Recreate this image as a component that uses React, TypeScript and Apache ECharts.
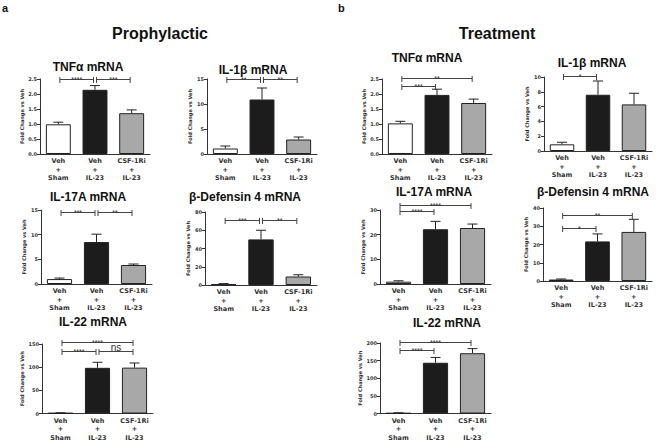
import React, { useEffect, useRef } from "react";
import * as echarts from "echarts";

const groupLabels = ["Veh\n+\nSham", "Veh\n+\nIL-23", "CSF-1Ri\n+\nIL-23"];
const barColors = ["#ffffff", "#1c1c1c", "#a8a8a8"];

type Sig = [number, number, number, string];

// Prophylactic (a)
const proTnfMean = [0.99, 2.14, 1.36];
const proTnfSem = [0.07, 0.14, 0.11];
const proTnfSig: Sig[] = [[0, 1, 2.5, "****"], [1, 2, 2.5, "***"]];

const proIl1bMean = [1.1, 10.9, 2.9];
const proIl1bSem = [0.5, 2.3, 0.5];
const proIl1bSig: Sig[] = [[0, 1, 15, "**"], [1, 2, 15, "**"]];

const proIl17Mean = [1.0, 8.5, 3.85];
const proIl17Sem = [0.2, 1.6, 0.2];
const proIl17Sig: Sig[] = [[0, 1, 14.6, "***"], [1, 2, 14.6, "**"]];

const proDefMean = [0.8, 50, 9.3];
const proDefSem = [0.7, 10, 1.9];
const proDefSig: Sig[] = [[0, 1, 71, "***"], [1, 2, 71, "**"]];

const proIl22Mean = [1, 98.6, 99];
const proIl22Sem = [0.6, 12, 10];
const proIl22Sig: Sig[] = [[0, 2, 154, "****"], [0, 1, 134, "****"], [1, 2, 134, "ns"]];

// Treatment (b)
const trtTnfMean = [1.02, 1.97, 1.7];
const trtTnfSem = [0.07, 0.19, 0.13];
const trtTnfSig: Sig[] = [[0, 2, 2.53, "**"], [0, 1, 2.27, "***"]];

const trtIl1bMean = [0.9, 7.6, 6.3];
const trtIl1bSem = [0.28, 1.86, 1.5];
const trtIl1bSig: Sig[] = [[0, 1, 10.2, "*"]];

const trtIl17Mean = [0.95, 22.2, 22.7];
const trtIl17Sem = [0.35, 3.2, 1.6];
const trtIl17Sig: Sig[] = [[0, 2, 32, "****"], [0, 1, 29.6, "****"]];

const trtDefMean = [0.8, 21.7, 26.9];
const trtDefSem = [0.3, 4.1, 6.9];
const trtDefSig: Sig[] = [[0, 2, 36.4, "**"], [0, 1, 29.3, "*"]];

const trtIl22Mean = [1, 144, 171];
const trtIl22Sem = [1, 15, 13];
const trtIl22Sig: Sig[] = [[0, 2, 203, "****"], [0, 1, 180, "****"]];

const FONT = '"Liberation Sans", Arial, Helvetica, sans-serif';
const SMALL = '"DejaVu Sans", "Liberation Sans", sans-serif';

const panels = [
  { title: "TNFα mRNA", tx: 88, ty: 67, grid: { left: 40, top: 79, width: 110, height: 75 }, max: 2.5, interval: 0.5, dec: 1, mean: proTnfMean, sem: proTnfSem, sig: proTnfSig },
  { title: "IL-1β mRNA", tx: 253, ty: 70, grid: { left: 207, top: 79, width: 110, height: 75 }, max: 15, interval: 5, dec: 0, mean: proIl1bMean, sem: proIl1bSem, sig: proIl1bSig },
  { title: "IL-17A mRNA", tx: 88, ty: 197, grid: { left: 41, top: 210, width: 111, height: 74 }, max: 15, interval: 5, dec: 0, mean: proIl17Mean, sem: proIl17Sem, sig: proIl17Sig },
  { title: "β-Defensin 4 mRNA", tx: 245, ty: 197, grid: { left: 205, top: 212, width: 112, height: 73 }, max: 80, interval: 20, dec: 0, mean: proDefMean, sem: proDefSem, sig: proDefSig },
  { title: "IL-22 mRNA", tx: 93, ty: 322, grid: { left: 42, top: 344, width: 111, height: 73 }, max: 150, interval: 50, dec: 0, mean: proIl22Mean, sem: proIl22Sem, sig: proIl22Sig },
  { title: "TNFα mRNA", tx: 427, ty: 58, grid: { left: 382, top: 79, width: 110, height: 75 }, max: 2.5, interval: 0.5, dec: 1, mean: trtTnfMean, sem: trtTnfSem, sig: trtTnfSig },
  { title: "IL-1β mRNA", tx: 592, ty: 63, grid: { left: 544, top: 77, width: 108, height: 74 }, max: 10, interval: 2, dec: 0, mean: trtIl1bMean, sem: trtIl1bSem, sig: trtIl1bSig },
  { title: "IL-17A mRNA", tx: 434, ty: 192, grid: { left: 380, top: 210, width: 111, height: 74 }, max: 30, interval: 10, dec: 0, mean: trtIl17Mean, sem: trtIl17Sem, sig: trtIl17Sig },
  { title: "β-Defensin 4 mRNA", tx: 593, ty: 192, grid: { left: 543, top: 208, width: 109, height: 73 }, max: 40, interval: 10, dec: 0, mean: trtDefMean, sem: trtDefSem, sig: trtDefSig },
  { title: "IL-22 mRNA", tx: 447, ty: 323, grid: { left: 380, top: 343, width: 111, height: 74 }, max: 200, interval: 50, dec: 0, mean: trtIl22Mean, sem: trtIl22Sem, sig: trtIl22Sig },
];

function buildOption() {
  const axisColor = "#333";
  const series: any[] = [];
  panels.forEach((p, i) => {
    series.push({
      type: "bar",
      xAxisIndex: i,
      yAxisIndex: i,
      barCategoryGap: "32%",
      data: p.mean.map((v, k) => ({
        value: v,
        itemStyle: { color: barColors[k], borderColor: "#222", borderWidth: 1 },
      })),
      z: 2,
    });
    series.push({
      type: "custom",
      xAxisIndex: i,
      yAxisIndex: i,
      clip: false,
      z: 3,
      data: p.mean.map((v, k) => [k, v, v + p.sem[k]]),
      renderItem: (params: any, api: any) => {
        const base = api.coord([api.value(0), api.value(1)]);
        const top = api.coord([api.value(0), api.value(2)]);
        const st = { stroke: "#222", lineWidth: 1 };
        return {
          type: "group",
          children: [
            { type: "line", shape: { x1: base[0], y1: base[1], x2: top[0], y2: top[1] }, style: st },
            { type: "line", shape: { x1: top[0] - 5, y1: top[1], x2: top[0] + 5, y2: top[1] }, style: st },
          ],
        };
      },
    });
    series.push({
      type: "custom",
      xAxisIndex: i,
      yAxisIndex: i,
      clip: false,
      z: 4,
      data: p.sig.map((s) => [s[0], s[2]]),
      renderItem: (params: any, api: any) => {
        const s = p.sig[params.dataIndex];
        const a = api.coord([s[0], s[2]]);
        const b = api.coord([s[1], s[2]]);
        const y = Math.round(a[1]) + 0.5;
        const x1 = a[0] + 1.5;
        const x2 = b[0] - 1.5;
        const st = { stroke: "#444", lineWidth: 1 };
        const isNs = s[3] === "ns";
        return {
          type: "group",
          children: [
            { type: "line", shape: { x1, y1: y, x2, y2: y }, style: st },
            { type: "line", shape: { x1, y1: y - 2.5, x2: x1, y2: y + 3.5 }, style: st },
            { type: "line", shape: { x1: x2, y1: y - 2.5, x2: x2, y2: y + 3.5 }, style: st },
            {
              type: "text",
              style: {
                text: s[3],
                x: (x1 + x2) / 2,
                y: isNs ? y + 1 : y + 3,
                align: "center",
                verticalAlign: "bottom",
                fontSize: isNs ? 10 : 7,
                fontFamily: FONT,
                fill: "#333",
              },
            },
          ],
        };
      },
    });
  });

  const graphic: any[] = [
    { type: "text", x: 2, y: 8, style: { text: "a", fontSize: 11, fontWeight: "bold", fontFamily: FONT, fill: "#111", verticalAlign: "middle" } },
    { type: "text", x: 338, y: 8, style: { text: "b", fontSize: 11, fontWeight: "bold", fontFamily: FONT, fill: "#111", verticalAlign: "middle" } },
    { type: "text", x: 160, y: 33, style: { text: "Prophylactic", fontSize: 16, fontWeight: "bold", fontFamily: FONT, fill: "#111", align: "center", verticalAlign: "middle" } },
    { type: "text", x: 497, y: 33, style: { text: "Treatment", fontSize: 16, fontWeight: "bold", fontFamily: FONT, fill: "#111", align: "center", verticalAlign: "middle" } },
  ];
  panels.forEach((p) => {
    graphic.push({
      type: "text",
      x: p.tx,
      y: p.ty,
      style: { text: p.title, fontSize: 12, fontWeight: "bold", fontFamily: FONT, fill: "#111", align: "center", verticalAlign: "middle" },
    });
  });

  return {
    animation: false,
    backgroundColor: "#ffffff",
    grid: panels.map((p) => ({ ...p.grid })),
    xAxis: panels.map((p, i) => ({
      type: "category",
      gridIndex: i,
      data: groupLabels,
      axisLine: { lineStyle: { color: axisColor, width: 1 } },
      axisTick: { alignWithLabel: true, length: 3, lineStyle: { color: axisColor } },
      axisLabel: {
        interval: 0,
        margin: 3,
        fontSize: 6.5,
        lineHeight: 8.5,
        formatter: (v: string) =>
          v
            .split("\n")
            .map((line) => "{t|" + line + "}")
            .join("\n"),
        rich: {
          t: {
            fontSize: 6.5,
            lineHeight: 8.5,
            height: 8.5,
            color: "#333",
            fontWeight: "bold",
            fontFamily: SMALL,
            align: "center",
          },
        },
      },
    })),
    yAxis: panels.map((p, i) => ({
      type: "value",
      gridIndex: i,
      min: 0,
      max: p.max,
      interval: p.interval,
      name: "Fold Change vs Veh",
      nameLocation: "middle",
      nameGap: 15,
      nameTextStyle: { fontSize: 5, color: "#333", fontWeight: "bold", fontFamily: SMALL },
      axisLine: { show: true, lineStyle: { color: axisColor, width: 1 } },
      axisTick: { show: true, length: 3, lineStyle: { color: axisColor } },
      splitLine: { show: false },
      axisLabel: {
        fontSize: 5,
        margin: 3,
        color: "#333",
        fontWeight: "bold",
        fontFamily: SMALL,
        formatter: (v: number) => v.toFixed(p.dec),
      },
    })),
    series,
    graphic,
  };
}

export default function App() {
  const ref = useRef<HTMLDivElement>(null);
  useEffect(() => {
    if (!ref.current) return;
    const chart = echarts.init(ref.current, undefined, { renderer: "svg" });
    chart.setOption(buildOption() as any);
    return () => chart.dispose();
  }, []);
  return (
    <div
      ref={ref}
      style={{ position: "fixed", left: 0, top: 0, width: 656, height: 442, background: "#fff" }}
    />
  );
}
